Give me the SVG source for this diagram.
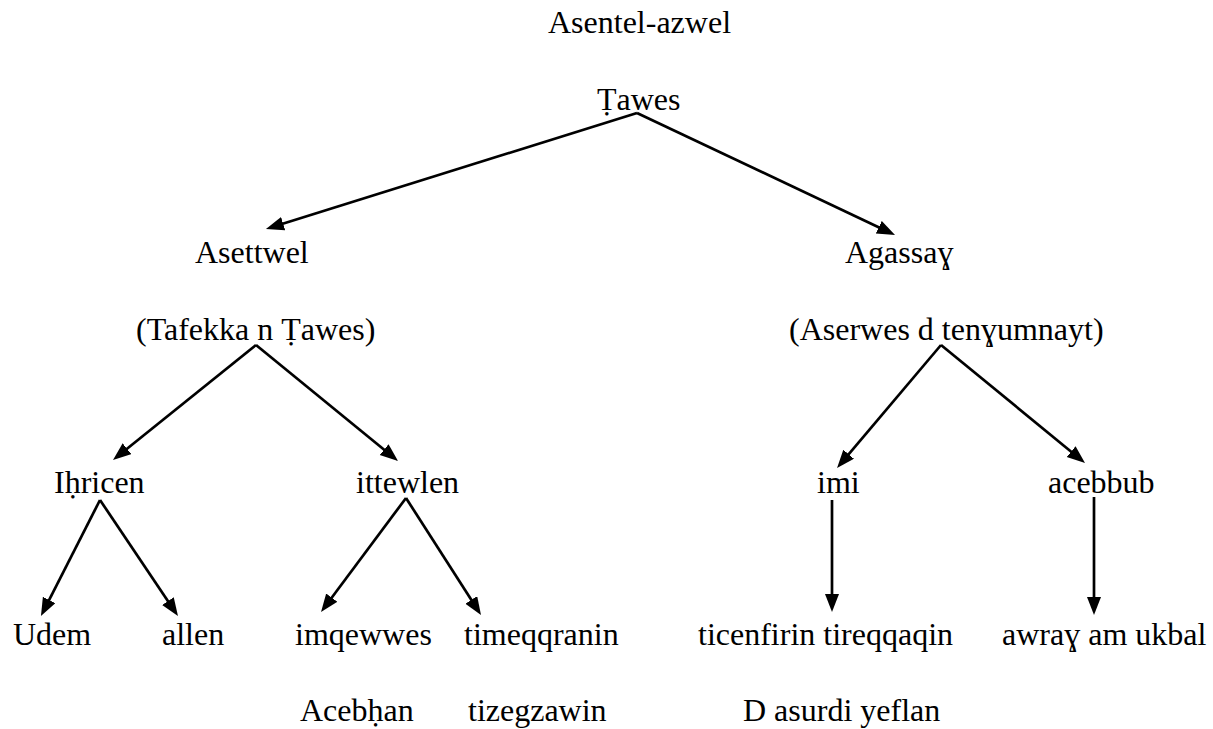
<svg xmlns="http://www.w3.org/2000/svg" width="1213" height="729" viewBox="0 0 1213 729">
<defs>
<style>
text{font-family:"Liberation Serif","Times New Roman","DejaVu Serif",serif;font-size:32px;fill:#000}
.c line{stroke:#000;stroke-width:2.7;marker-end:url(#ah)}
</style>
<marker id="ah" markerUnits="userSpaceOnUse" markerWidth="20" markerHeight="16" refX="8" refY="7" orient="auto" viewBox="0 0 20 16">
<path d="M0,0 L18,7 L0,14 z" fill="#000"/>
</marker>
</defs>
<rect width="1213" height="729" fill="#fff"/>
<g id="title"><text x="548" y="33">Asentel-azwel</text></g>
<g id="n-tawes"><text x="597" y="110">Ṭawes</text></g>
<g id="n-asettwel"><text x="195" y="263">Asettwel</text></g>
<g id="n-agassay"><text x="845" y="263">Agassaɣ</text></g>
<g id="n-tafekka"><text x="136" y="340">(Tafekka n Ṭawes)</text></g>
<g id="n-aserwes"><text x="789" y="340">(Aserwes d tenɣumnayt)</text></g>
<g id="n-ihricen"><text x="54" y="493">Iḥricen</text></g>
<g id="n-ittewlen"><text x="356" y="493">ittewlen</text></g>
<g id="n-imi"><text x="817" y="493">imi</text></g>
<g id="n-acebbub"><text x="1048" y="493">acebbub</text></g>
<g id="n-udem"><text x="13" y="645">Udem</text></g>
<g id="n-allen"><text x="162" y="645">allen</text></g>
<g id="n-imqewwes"><text x="295" y="645">imqewwes</text></g>
<g id="n-timeqqranin"><text x="464" y="645">timeqqranin</text></g>
<g id="n-ticenfirin"><text x="698" y="645">ticenfirin tireqqaqin</text></g>
<g id="n-awray"><text x="1002" y="645">awraɣ am ukbal</text></g>
<g id="n-acebhan"><text x="300" y="721">Acebḥan</text></g>
<g id="n-tizegzawin"><text x="468" y="721">tizegzawin</text></g>
<g id="n-asurdi"><text x="743" y="721">D asurdi yeflan</text></g>
<g id="connectors" class="c">
<line x1="637" y1="113" x2="275.5" y2="226"/>
<line x1="637" y1="113" x2="886" y2="230.7"/>
<line x1="256" y1="345" x2="120.8" y2="453.7"/>
<line x1="256" y1="345" x2="390.3" y2="454.7"/>
<line x1="941" y1="345" x2="843.5" y2="460.4"/>
<line x1="941" y1="345" x2="1077.3" y2="456.7"/>
<line x1="100" y1="500" x2="45.5" y2="607.1"/>
<line x1="100" y1="500" x2="172.4" y2="607.7"/>
<line x1="406" y1="498" x2="327" y2="604"/>
<line x1="406" y1="498" x2="475.6" y2="606.6"/>
<line x1="832" y1="500" x2="832" y2="602"/>
<line x1="1094" y1="497" x2="1094" y2="605"/>
</g>
</svg>
